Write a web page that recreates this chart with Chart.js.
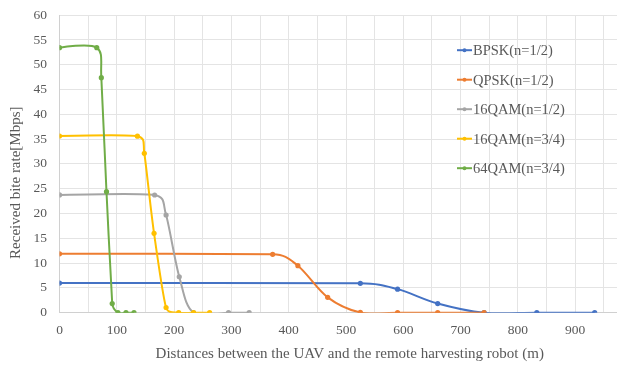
<!DOCTYPE html>
<html><head><meta charset="utf-8">
<script src="https://cdn.jsdelivr.net/npm/chart.js@4/dist/chart.umd.min.js"></script>
<style>
html,body{margin:0;padding:0;background:#fff;overflow:hidden;width:617px;height:367px}
#wrap{position:absolute;left:0;top:0;width:642px;height:367px}
</style>
</head><body><div id="wrap"><canvas id="c"></canvas></div>
<script>
// Series names
const seriesNames = ["BPSK(n=1/2)", "QPSK(n=1/2)", "16QAM(n=1/2)", "16QAM(n=3/4)", "64QAM(n=3/4)"];
const seriesColors = ["#4472C4", "#ED7D31", "#A5A5A5", "#FFC000", "#70AD47"];

// Distances (m) and received bit rates (Mbps)
const bpskX   = [0, 525, 590, 660, 741, 833, 934];
const bpskY   = [5.98, 5.93, 4.75, 1.85, 0, 0, 0];
const qpskX   = [0, 372, 416, 468, 525, 590, 660, 741];
const qpskY   = [11.88, 11.78, 9.48, 3.1, 0.05, 0, 0, 0];
const qam16aX = [0, 166, 186, 209, 234, 295, 331];
const qam16aY = [23.76, 23.74, 19.7, 7.25, 0, 0, 0];
const qam16bX = [0, 136, 148, 165, 186, 208, 234, 262];
const qam16bY = [35.64, 35.6, 32.15, 16.0, 1.05, 0, 0, 0];
const qam64X  = [0, 65, 73, 82, 92, 102, 116, 130];
const qam64Y  = [53.45, 53.45, 47.4, 24.4, 1.85, 0, 0, 0];

// Axis ticks
const yTicks = [0, 5, 10, 15, 20, 25, 30, 35, 40, 45, 50, 55, 60];
const xTickLabels = [0, 100, 200, 300, 400, 500, 600, 700, 800, 900];

const xs = [bpskX, qpskX, qam16aX, qam16bX, qam64X];
const ys = [bpskY, qpskY, qam16aY, qam16bY, qam64Y];

const FONT = '"Liberation Serif", "Times New Roman", serif';
const TXT = '#595959';
const NB = '\u00A0';

const datasets = seriesNames.map((name, i) => ({
  label: name,
  data: xs[i].map((x, j) => ({x: x, y: ys[i][j]})),
  borderColor: seriesColors[i],
  backgroundColor: seriesColors[i],
  pointBackgroundColor: seriesColors[i],
  pointBorderColor: seriesColors[i],
  pointRadius: 2.6,
  pointBorderWidth: 0,
  borderWidth: 2,
  tension: 0.4,
  fill: false,
  order: seriesNames.length - i
}));

// Excel-like smoothing: Catmull-Rom arms (1/6 of neighbour chord),
// limited to half of the shorter adjacent segment
const excelSmooth = {
  id: 'excelSmooth',
  beforeDatasetsDraw(chart) {
    chart.getSortedVisibleDatasetMetas().forEach(meta => {
      const line = meta.dataset;
      if (!line) return;
      line.updateControlPoints(chart.chartArea, meta.indexAxis || 'x');
      const pts = meta.data;
      const n = pts.length;
      const dist = (a, b) => Math.hypot(a.x - b.x, a.y - b.y);
      for (let i = 0; i < n; i++) {
        const p = pts[i];
        const prev = pts[Math.max(0, i - 1)];
        const next = pts[Math.min(n - 1, i + 1)];
        const d01 = dist(prev, p), d12 = dist(p, next), d02 = dist(prev, next);
        let f = 1 / 6;
        if (d02 > 0) f = Math.min(f, Math.min(d01, d12) / (2 * d02));
        else f = 0;
        const dx = (next.x - prev.x) * f, dy = (next.y - prev.y) * f;
        p.cp1x = p.x - dx; p.cp1y = p.y - dy;
        p.cp2x = p.x + dx; p.cp2y = p.y + dy;
      }
    });
  }
};

const insideLegend = {
  id: 'insideLegend',
  afterDraw(chart) {
    const ctx = chart.ctx;
    const a = chart.chartArea;
    ctx.save();
    ctx.font = '14.5px ' + FONT;
    ctx.textBaseline = 'middle';
    ctx.textAlign = 'left';
    const x0 = 457;
    chart.data.datasets.forEach((ds, i) => {
      const y = a.top + 35 + i * 29.5;
      ctx.strokeStyle = ds.borderColor;
      ctx.lineWidth = 2;
      ctx.beginPath(); ctx.moveTo(x0, y); ctx.lineTo(x0 + 15, y); ctx.stroke();
      ctx.fillStyle = ds.borderColor;
      ctx.beginPath(); ctx.arc(x0 + 7.5, y, 2, 0, Math.PI * 2); ctx.fill();
      ctx.fillStyle = TXT;
      ctx.fillText(ds.label, x0 + 16, y + 1);
    });
    ctx.restore();
  }
};

new Chart(document.getElementById('c'), {
  type: 'line',
  data: { datasets: datasets },
  plugins: [excelSmooth, insideLegend],
  options: {
    responsive: true,
    maintainAspectRatio: false,
    animation: false,
    layout: { padding: { left: 0, right: 9.5, top: 15.2, bottom: 0 } },
    plugins: { legend: { display: false }, tooltip: { enabled: false } },
    scales: {
      x: {
        type: 'linear',
        min: 0, max: 1000,
        afterFit(s) { s.height = 54.3; s.paddingLeft = 0; s.paddingRight = 0; },
        ticks: {
          stepSize: 50,
          autoSkip: false,
          maxRotation: 0,
          padding: 9.5,
          color: TXT,
          font: { family: FONT, size: 13.5 },
          callback: v => xTickLabels.includes(v) ? String(v) : ''
        },
        grid: { color: '#E4E4E4', lineWidth: 1, drawTicks: false },
        border: { color: '#D0D0D0', width: 1 },
        title: {
          display: true,
          text: NB + NB + 'Distances between the UAV and the remote harvesting robot (m)',
          color: TXT,
          font: { family: FONT, size: 15 },
          padding: { top: 0, bottom: 4 }
        }
      },
      y: {
        min: 0, max: 60,
        afterFit(s) { s.width = 59.5; s.paddingTop = 0; s.paddingBottom = 0; },
        afterBuildTicks(s) { s.ticks = yTicks.map(v => ({value: v})); },
        ticks: {
          padding: 12.5,
          color: TXT,
          font: { family: FONT, size: 13.5 }
        },
        grid: { color: '#E4E4E4', lineWidth: 1, drawTicks: false },
        border: { color: '#D0D0D0', width: 1 },
        title: {
          display: true,
          text: 'Received bite rate[Mbps]' + NB.repeat(10),
          color: TXT,
          font: { family: FONT, size: 15 },
          padding: { top: 7, bottom: 0 }
        }
      }
    }
  }
});
</script>
</body></html>
